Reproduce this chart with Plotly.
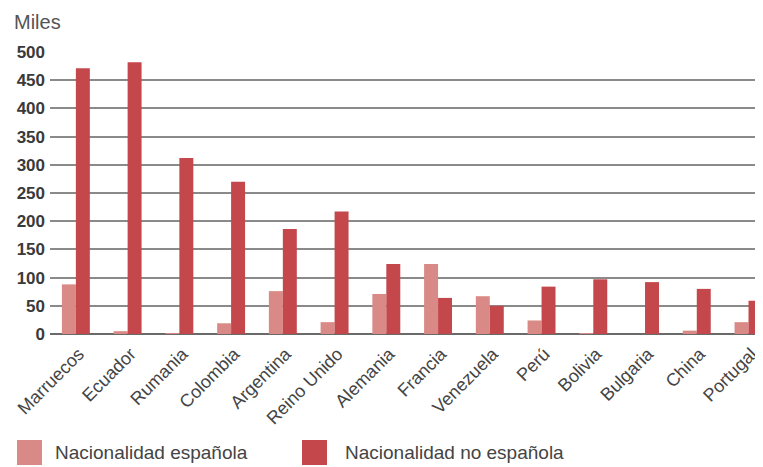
import plotly.graph_objects as go

countries = ["Marruecos", "Ecuador", "Rumania", "Colombia", "Argentina", "Reino Unido",
             "Alemania", "Francia", "Venezuela", "Perú", "Bolivia", "Bulgaria", "China", "Portugal"]
espanola = [88, 5, 1, 19, 76, 21, 71, 124, 67, 24, 1, 0, 6, 21]
no_espanola = [471, 482, 312, 270, 186, 217, 124, 64, 50, 84, 97, 92, 80, 59]
series_names = ["Nacionalidad española", "Nacionalidad no española"]
y_ticks = [0, 50, 100, 150, 200, 250, 300, 350, 400, 450, 500]

light = "#da8a86"
dark = "#c4474c"
font_family = "Liberation Sans, Arial, sans-serif"

fig = go.Figure()
fig.add_trace(go.Bar(x=countries, y=espanola, name=series_names[0],
                     marker=dict(color=light, line=dict(width=0))))
fig.add_trace(go.Bar(x=countries, y=no_espanola, name=series_names[1],
                     marker=dict(color=dark, line=dict(width=0))))

# page body has an 8px margin, so the figure is 8px smaller and everything shifts
fig.update_layout(
    width=755, height=459,
    margin=dict(l=42, r=0, t=44, b=133),
    paper_bgcolor="white", plot_bgcolor="white",
    barmode="group", bargap=0.46, bargroupgap=0.0,
    showlegend=False,
    font=dict(family=font_family, color="#444444"),
)
fig.update_xaxes(
    range=[-0.5, 13.28],
    tickangle=-45,
    tickfont=dict(size=18, color="#444444"),
    showgrid=False, showline=False, ticks="", automargin=False,
    ticklabelshift=3, ticklabelstandoff=5,
)
fig.update_yaxes(
    range=[0, 500],
    tickvals=y_ticks,
    tickfont=dict(size=17, color="#3a3a3a", family=font_family, weight="bold"),
    showgrid=True, gridcolor="#8a8a8a", gridwidth=1.5,
    zeroline=True, zerolinecolor="#6a6a6a", zerolinewidth=2,
    showline=False, ticks="", ticklabelstandoff=4, automargin=False,
)

fig.add_annotation(text="Miles", xref="paper", yref="paper", x=(12 - 50) / 713, y=(334 - 22) / 282,
                   xanchor="left", yanchor="middle", showarrow=False,
                   font=dict(size=20, color="#555555", family=font_family))

# legend drawn manually
leg_y0 = (334 - 440) / 282
leg_y1 = (334 - 465) / 282
for name, col, x0, tx in zip(series_names, [light, dark], [17, 302], [53, 343]):
    fig.add_shape(type="rect", xref="paper", yref="paper",
                  x0=(x0 - 50) / 713, x1=(x0 + 25 - 50) / 713, y0=leg_y1, y1=leg_y0,
                  fillcolor=col, line=dict(width=0))
    fig.add_annotation(text=name, xref="paper", yref="paper",
                       x=(tx - 50) / 713, y=(leg_y0 + leg_y1) / 2,
                       xanchor="left", yanchor="middle", showarrow=False,
                       font=dict(size=19, color="#444444", family=font_family))

fig.write_html("out.html")
